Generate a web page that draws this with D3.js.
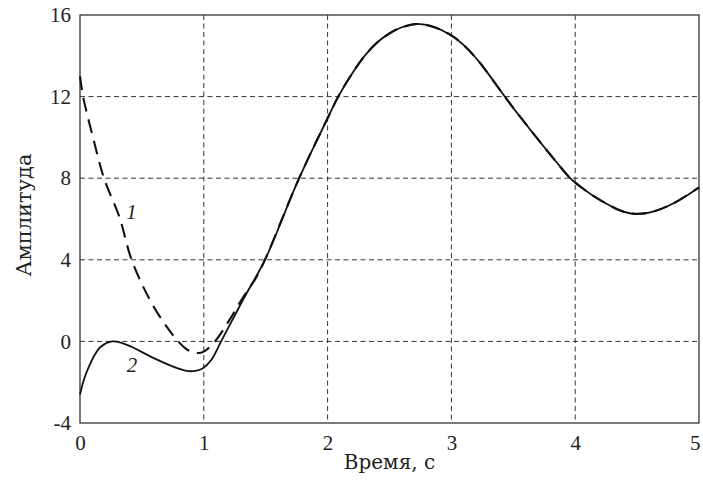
<!DOCTYPE html>
<html><head><meta charset="utf-8">
<script src="https://cdn.jsdelivr.net/npm/d3@7"></script>
<style>
html,body{margin:0;padding:0;background:#fff;}
svg{display:block;}
</style></head>
<body>
<svg id="c" width="703" height="486"></svg>
<script>
// ---- data ----
const xTicks = [0, 1, 2, 3, 4, 5];
const yTicks = [-4, 0, 4, 8, 12, 16];
const xLabel = "Время, с";
const yLabel = "Амплитуда";

// curve 1 (dashed)
const time1 = [0, 0.025, 0.105, 0.194, 0.318, 0.417, 0.565, 0.70, 0.794, 0.87, 0.95, 1.0, 1.09, 1.2, 1.32, 1.42, 1.494,
  1.77, 2.0, 2.086, 2.2, 2.3, 2.4, 2.5, 2.6, 2.72, 2.85, 3.0, 3.1, 3.2, 3.3, 3.425, 3.55, 3.7, 3.85, 3.96,
  4.05, 4.15, 4.25, 4.35, 4.45, 4.55, 4.65, 4.75, 4.85, 5.0];
const amp1 = [13.0, 12.0, 10.0, 8.0, 6.1, 4.0, 2.03, 0.72, 0.0, -0.42, -0.57, -0.5, 0.0, 0.98, 2.19, 3.1, 4.0,
  8.0, 10.94, 12.0, 13.15, 14.0, 14.65, 15.1, 15.4, 15.56, 15.43, 15.0, 14.52, 13.88, 13.1, 12.05, 11.05, 9.9, 8.78, 8.0,
  7.55, 7.12, 6.76, 6.45, 6.27, 6.27, 6.4, 6.64, 6.96, 7.55];

// curve 2 (solid)
const time2 = [0, 0.03, 0.054, 0.118, 0.17, 0.26, 0.34, 0.415, 0.6, 0.79, 0.875, 0.95, 0.99, 1.06, 1.14, 1.33, 1.494,
  1.77, 2.0, 2.086, 2.2, 2.3, 2.4, 2.5, 2.6, 2.72, 2.85, 3.0, 3.1, 3.2, 3.3, 3.425, 3.55, 3.7, 3.85, 3.96,
  4.05, 4.15, 4.25, 4.35, 4.45, 4.55, 4.65, 4.75, 4.85, 5.0];
const amp2 = [-2.6, -1.9, -1.5, -0.67, -0.25, 0.0, -0.08, -0.26, -0.83, -1.32, -1.46, -1.42, -1.33, -0.91, 0.0, 2.19, 4.0,
  8.0, 10.94, 12.0, 13.15, 14.0, 14.65, 15.1, 15.4, 15.56, 15.43, 15.0, 14.52, 13.88, 13.1, 12.05, 11.05, 9.9, 8.78, 8.0,
  7.55, 7.12, 6.76, 6.45, 6.27, 6.27, 6.4, 6.64, 6.96, 7.55];

const curveLabels = [{text: "1", t: 0.415, v: 6.0}, {text: "2", t: 0.42, v: -1.5}];

// ---- layout ----
const L = 80, R = 699, T = 15, B = 423;
const tickFont = "'Liberation Serif', 'DejaVu Serif', serif";
const titleFont = "'DejaVu Serif', 'Liberation Serif', serif";
const svg = d3.select("#c");
const x = d3.scaleLinear().domain([0, 5]).range([L, R]);
const y = d3.scaleLinear().domain([-4, 16]).range([B, T]);

// grid
const grid = svg.append("g").attr("stroke", "#333").attr("stroke-width", 1).attr("stroke-dasharray", "5,3.5");
grid.selectAll("line.v").data(xTicks.slice(1, -1)).join("line")
  .attr("x1", d => x(d)).attr("x2", d => x(d)).attr("y1", T).attr("y2", B);
grid.selectAll("line.h").data(yTicks.slice(1, -1)).join("line")
  .attr("x1", L).attr("x2", R).attr("y1", d => y(d)).attr("y2", d => y(d));

// axes (tick labels via d3 axes)
const xAxis = svg.append("g").attr("transform", `translate(0,${B})`)
  .call(d3.axisBottom(x).tickValues(xTicks).tickSize(0).tickPadding(12).tickFormat(d3.format("d")));
const yAxis = svg.append("g").attr("transform", `translate(${L},0)`)
  .call(d3.axisLeft(y).tickValues(yTicks).tickSize(0).tickPadding(9).tickFormat(d => d < 0 ? "-" + Math.abs(d) : String(d)));
[xAxis, yAxis].forEach(a => {
  a.select(".domain").remove();
  a.attr("font-family", null).attr("font-size", null);
  a.selectAll("text").style("font-family", tickFont).style("font-size", "21px").style("fill", "#222");
});
// keep the last x tick label inside the window
xAxis.selectAll(".tick").filter(d => d === 5).select("text").attr("dx", "-0.2em");

// frame
svg.append("rect").attr("x", L).attr("y", T).attr("width", R - L).attr("height", B - T)
  .attr("fill", "none").attr("stroke", "#333").attr("stroke-width", 1.3);

// curves
const line = d3.line().x(d => x(d[0])).y(d => y(d[1])).curve(d3.curveCatmullRom.alpha(0.5));
svg.append("path").datum(d3.zip(time2, amp2)).attr("d", line)
  .attr("fill", "none").attr("stroke", "#111").attr("stroke-width", 1.8);
svg.append("path").datum(d3.zip(time1, amp1)).attr("d", line)
  .attr("fill", "none").attr("stroke", "#111").attr("stroke-width", 2.1).attr("stroke-dasharray", "14,8");

// curve labels
svg.selectAll("text.cl").data(curveLabels).join("text")
  .attr("x", d => x(d.t)).attr("y", d => y(d.v)).attr("text-anchor", "middle")
  .style("font-family", tickFont).style("font-size", "21px").style("font-style", "italic").style("fill", "#222")
  .text(d => d.text);

// axis titles
svg.append("text").attr("x", (L + R) / 2).attr("y", 469).attr("text-anchor", "middle")
  .style("font-family", titleFont).style("font-size", "20px").style("fill", "#222").text(xLabel);
svg.append("text").attr("transform", `translate(31,215) rotate(-90)`).attr("text-anchor", "middle")
  .style("font-family", titleFont).style("font-size", "21px").style("fill", "#222").text(yLabel);
</script>
</body></html>
